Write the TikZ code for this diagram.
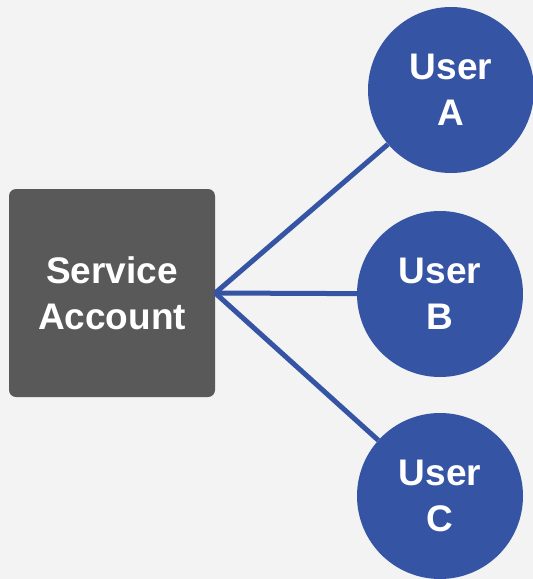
\documentclass[tikz,border=0pt]{standalone}
\usepackage{fontspec}
\setmainfont{Liberation Sans}
\definecolor{bg}{HTML}{F3F3F3}
\definecolor{boxgray}{HTML}{595959}
\definecolor{userblue}{HTML}{3654A4}
\begin{document}
\begin{tikzpicture}[x=1pt,y=-1pt,
  lbl/.style={text=white,font=\fontsize{37}{46}\selectfont\bfseries,align=center,inner sep=0pt},
  svcbox/.style={lbl,fill=boxgray,rounded corners=7pt,minimum width=206pt,minimum height=208pt},
  usernode/.style={lbl,circle,fill=userblue,minimum size=166pt},
  link/.style={draw=userblue,line width=5pt}]
\fill[bg] (0,0) rectangle (533,579);
\useasboundingbox (0,0) rectangle (533,579);
\node[svcbox] (svc) at (112,293) {Service\\Account};
\node[usernode] (ua) at (451,90) {User\\A};
\node[usernode] (ub) at (440,294) {User\\B};
\node[usernode] (uc) at (440,496) {User\\C};
\coordinate (hub) at (svc.east);
\begin{scope}[on background layer/.try]
\end{scope}
\draw[link] (hub) -- (ua);
\draw[link] (hub) -- (ub);
\draw[link] (hub) -- (uc);
\end{tikzpicture}
\end{document}
